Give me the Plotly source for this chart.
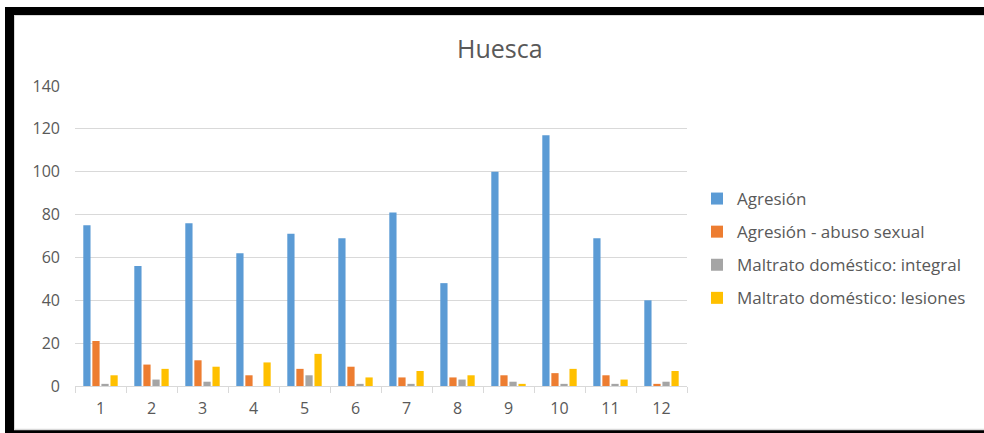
import plotly.graph_objects as go

categories = ["1", "2", "3", "4", "5", "6", "7", "8", "9", "10", "11", "12"]
series_names = [
    "Agresión",
    "Agresión - abuso sexual",
    "Maltrato doméstico: integral",
    "Maltrato doméstico: lesiones",
]
agresion = [75, 56, 76, 62, 71, 69, 81, 48, 100, 117, 69, 40]
abuso_sexual = [21, 10, 12, 5, 8, 9, 4, 4, 5, 6, 5, 1]
integral = [1, 3, 2, 0, 5, 1, 1, 3, 2, 1, 1, 2]
lesiones = [5, 8, 9, 11, 15, 4, 7, 5, 1, 8, 3, 7]
y_ticks = [0, 20, 40, 60, 80, 100, 120, 140]
title_text = "Huesca"

colors = ["#5B9BD5", "#ED7D31", "#A5A5A5", "#FFC000"]
FONT = "Open Sans"
TXT = "#595959"
GRID = "#D9D9D9"

W, H = 984, 433
L, R, T, B = 75, 297, 86, 47
PW, PH = W - L - R, H - T - B


def px(x):
    return (x - L) / PW


def py(y):
    return (H - B - y) / PH


fig = go.Figure()
for i, (name, vals) in enumerate(zip(series_names, [agresion, abuso_sexual, integral, lesiones])):
    fig.add_trace(go.Bar(
        x=categories, y=vals, name=name,
        marker=dict(color=colors[i], line=dict(width=0)),
        legendgroup=f"g{i}",
    ))

shapes = []
# black frame pieces
shapes.append(dict(type="rect", xref="paper", yref="paper", x0=px(5), x1=px(990), y0=py(15), y1=py(7),
                   fillcolor="black", line=dict(width=0), layer="above"))
shapes.append(dict(type="rect", xref="paper", yref="paper", x0=px(5), x1=px(14), y0=py(440), y1=py(7),
                   fillcolor="black", line=dict(width=0), layer="above"))
shapes.append(dict(type="rect", xref="paper", yref="paper", x0=px(5), x1=px(990), y0=py(440), y1=py(430),
                   fillcolor="black", line=dict(width=0), layer="above"))
# thin light grey inner lines
shapes.append(dict(type="line", xref="paper", yref="paper", x0=px(14), x1=px(990), y0=py(15.5), y1=py(15.5),
                   line=dict(color=GRID, width=1), layer="above"))
shapes.append(dict(type="line", xref="paper", yref="paper", x0=px(14.5), x1=px(14.5), y0=py(429.5), y1=py(15.5),
                   line=dict(color=GRID, width=1), layer="above"))
shapes.append(dict(type="line", xref="paper", yref="paper", x0=px(14), x1=px(990), y0=py(429.5), y1=py(429.5),
                   line=dict(color=GRID, width=1.5), layer="above"))

fig.update_layout(
    width=W, height=H,
    margin=dict(l=L, r=R, t=T, b=B, pad=0),
    paper_bgcolor="white", plot_bgcolor="white",
    font=dict(family=FONT, color=TXT, size=16),
    barmode="group", bargap=0.29, bargroupgap=0.2,
    showlegend=True,
    legend=dict(
        x=px(697), y=py(181), xanchor="left", yanchor="top",
        font=dict(family=FONT, size=17, color=TXT),
        tracegroupgap=8, itemwidth=30, bgcolor="rgba(0,0,0,0)",
    ),
    annotations=[dict(
        text=title_text, xref="paper", yref="paper", x=px(500), y=py(48),
        xanchor="center", yanchor="middle", showarrow=False,
        font=dict(family=FONT, size=25, color=TXT),
    )],
    shapes=shapes,
)
fig.update_xaxes(
    type="category", showgrid=False, showline=True, linecolor=GRID, linewidth=1,
    ticks="outside", tickson="boundaries", ticklen=6, tickcolor=GRID,
    tickfont=dict(size=16, color=TXT), ticklabelstandoff=8,
)
fig.update_yaxes(
    range=[0, 140], tickvals=y_ticks, showgrid=True, gridcolor=GRID, gridwidth=1,
    zeroline=False, showline=False, ticks="", tickfont=dict(size=16, color=TXT),
    ticklabelstandoff=14,
)

fig.write_html(
    "out.html",
    config={"displayModeBar": False},
    post_script="document.body.style.margin='0';document.body.style.overflow='hidden';",
)
